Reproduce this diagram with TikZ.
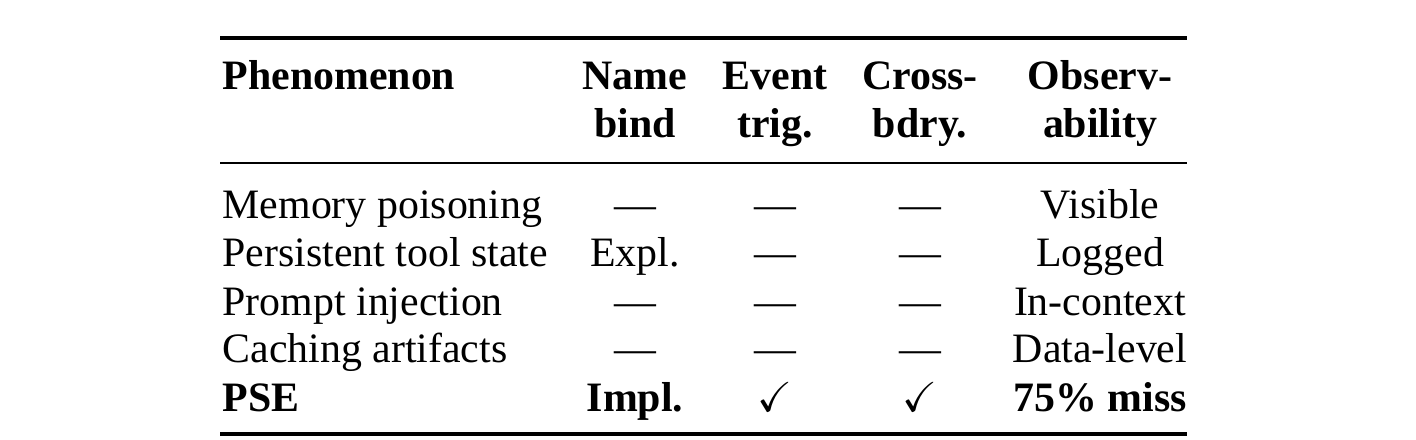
\documentclass[tikz,border=0pt]{standalone}
\usepackage{amssymb}
\usepackage{fontspec}
\setmainfont{Liberation Serif}
\begin{document}
\begin{tikzpicture}[x=0.01cm,y=-0.01cm,
	cell/.style={font=\fontsize{11.9}{14}\selectfont, inner sep=0pt, anchor=base},
	head/.style={cell, font=\fontsize{11.9}{14}\selectfont\bfseries},
	rowname/.style={cell, anchor=base west}]
	\useasboundingbox (0,0) rectangle (1416,440);
	% rules
	\draw[line width=1.4pt] (220,38) -- (1187,38);
	\draw[line width=0.8pt] (220,163) -- (1187,163);
	\draw[line width=1.4pt] (220,434) -- (1187,434);
	% header
	\node[head, anchor=base west] (hphen) at (222,90) {Phenomenon};
	\node[head] (hname1) at (635,90) {Name};
	\node[head] (hname2) at (635,138) {bind};
	\node[head] (hevt1) at (775,90) {Event};
	\node[head] (hevt2) at (775,138) {trig.};
	\node[head] (hcross1) at (920,90) {Cross-};
	\node[head] (hcross2) at (920,138) {bdry.};
	\node[head] (hobs1) at (1100,90) {Observ-};
	\node[head] (hobs2) at (1100,138) {ability};
	% body
	\def\dash{—}
	\foreach \name/\nb/\ev/\cb/\obs [count=\i] in {
		Memory poisoning/\dash/\dash/\dash/Visible,
		Persistent tool state/Expl./\dash/\dash/Logged,
		Prompt injection/\dash/\dash/\dash/In-context,
		Caching artifacts/\dash/\dash/\dash/Data-level}{
		\node[rowname] (r\i) at (222,171+48*\i) {\name};
		\node[cell] (nb\i) at (635,171+48*\i) {\nb};
		\node[cell] (ev\i) at (775,171+48*\i) {\ev};
		\node[cell] (cb\i) at (920,171+48*\i) {\cb};
		\node[cell] (ob\i) at (1100,171+48*\i) {\obs};
	}
	\node[head, anchor=base west] (r5) at (222,411) {PSE};
	\node[head] (nb5) at (635,411) {Impl.};
	\node[cell] (ev5) at (775,411) {$\checkmark$};
	\node[cell] (cb5) at (920,411) {$\checkmark$};
	\node[head] (ob5) at (1100,411) {75\% miss};
\end{tikzpicture}
\end{document}
